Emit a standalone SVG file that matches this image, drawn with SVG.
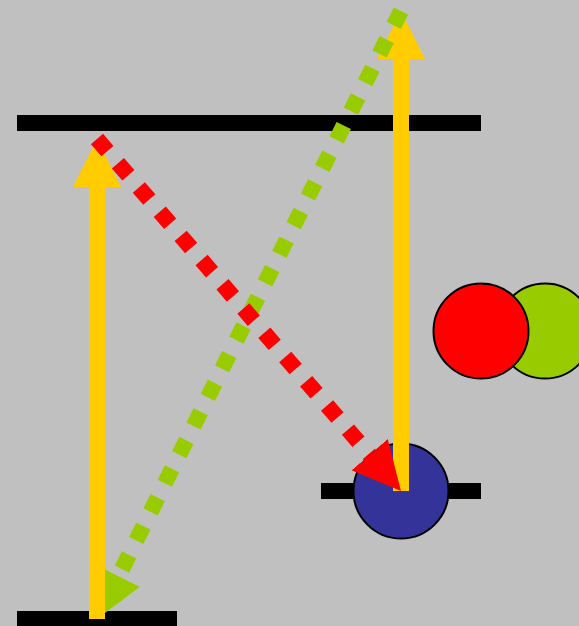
<svg xmlns="http://www.w3.org/2000/svg" width="579" height="626" viewBox="0 0 579 626">
  <style>
    .level { fill: #000000; }
    .atom { stroke: #000000; stroke-width: 2; }
    .pump { fill: none; stroke: #ffcc00; stroke-width: 16; stroke-linecap: butt; }
    .decay { fill: none; stroke-width: 16; stroke-dasharray: 16 16; stroke-linecap: butt; }
  </style>
  <defs>
    <marker id="head-yellow" viewBox="0 0 3 3" refX="0" refY="1.5" markerWidth="3" markerHeight="3" markerUnits="strokeWidth" orient="auto">
      <path d="M0,0 L3,1.5 L0,3 Z" fill="#ffcc00"/>
    </marker>
    <marker id="head-green" viewBox="0 0 3 3" refX="0" refY="1.5" markerWidth="3" markerHeight="3" markerUnits="strokeWidth" orient="auto">
      <path d="M0,0 L3,1.5 L0,3 Z" fill="#99cc00"/>
    </marker>
    <marker id="head-red" viewBox="0 0 3 3" refX="0" refY="1.5" markerWidth="3" markerHeight="3" markerUnits="strokeWidth" orient="auto">
      <path d="M0,0 L3,1.5 L0,3 Z" fill="#ff0000"/>
    </marker>
  </defs>

  <rect width="579" height="626" fill="#c0c0c0"/>

  <!-- energy levels -->
  <g id="level-upper"><rect class="level" x="17" y="115" width="464" height="16"/></g>
  <g id="level-middle"><rect class="level" x="321" y="483" width="160" height="16"/></g>
  <g id="level-ground"><rect class="level" x="17" y="611" width="160" height="16"/></g>

  <!-- particles -->
  <g id="particle-blue"><circle class="atom" cx="401" cy="491" r="47.5" fill="#333399"/></g>
  <g id="particle-green"><circle class="atom" cx="545" cy="331" r="47.5" fill="#99cc00"/></g>
  <g id="particle-red"><circle class="atom" cx="481" cy="331" r="47.5" fill="#ff0000"/></g>

  <!-- transitions -->
  <g id="connectors">
    <line class="pump" x1="401" y1="491" x2="401" y2="59" marker-end="url(#head-yellow)"/>
    <line class="decay" stroke="#99cc00" x1="401" y1="11" x2="118.47" y2="576.07" marker-end="url(#head-green)"/>
    <line class="pump" x1="97" y1="619" x2="97" y2="187" marker-end="url(#head-yellow)"/>
    <line class="decay" stroke="#ff0000" x1="97" y1="139" x2="369.6" y2="454.7" marker-end="url(#head-red)"/>
  </g>
</svg>
